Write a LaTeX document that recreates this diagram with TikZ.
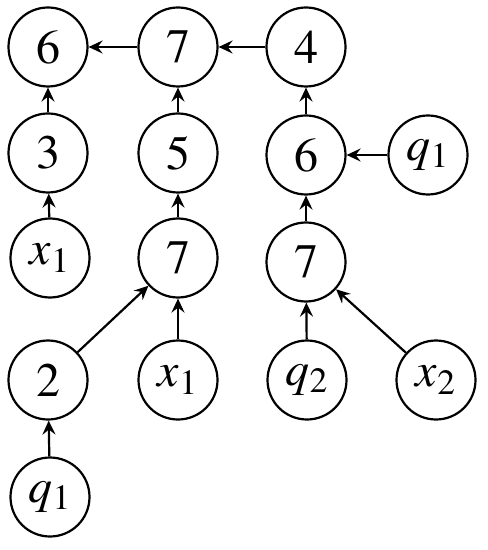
\documentclass[tikz,border=0pt]{standalone}
\usepackage{mathptmx}
\usepackage[no-math]{fontspec}
\setmainfont{Liberation Serif}
\usetikzlibrary{arrows.meta}
\begin{document}
\begin{tikzpicture}[x=0.5pt,y=-0.5pt]
    \useasboundingbox (0,0) rectangle (487,550);
    \begin{scope}
        \tikzstyle{every node}=[fill=white, draw=black, circle, line width=1.1pt, text=black, minimum size=39.5pt, inner sep=0pt, font=\fontsize{24}{28}\selectfont]
        \node (0) at (48,47) {$6$};
        \node (1) at (178,47) {$7$};
        \node (2) at (306,47) {$4$};
        \node (3) at (48,153) {$3$};
        \node (4) at (178,153) {$5$};
        \node (5) at (306,155) {$6$};
        \node (6) at (428,155) {$q_1$};
        \node (7) at (50,258) {$x_1$};
        \node (8) at (178,258) {$7$};
        \node (9) at (306,262) {$7$};
        \node (10) at (48,380) {$2$};
        \node (11) at (178,380) {$x_1$};
        \node (12) at (307,380) {$q_2$};
        \node (13) at (436,380) {$x_2$};
        \node (14) at (50,497) {$q_1$};
    \end{scope}
    \begin{scope}
        \tikzstyle{every edge}=[draw, line width=1.1pt, -{Stealth[length=7pt,width=6.5pt,inset=2.5pt]}]
        \path
        (1) edge[] (0)
        (2) edge[] (1)
        (3) edge[] (0)
        (4) edge[] (1)
        (5) edge[] (2)
        (6) edge[] (5)
        (7) edge[] (3)
        (8) edge[] (4)
        (9) edge[] (5)
        (10) edge[] (8)
        (11) edge[] (8)
        (12) edge[] (9)
        (13) edge[] (9)
        (14) edge[] (10)
        ;
    \end{scope}
\end{tikzpicture}
\end{document}
